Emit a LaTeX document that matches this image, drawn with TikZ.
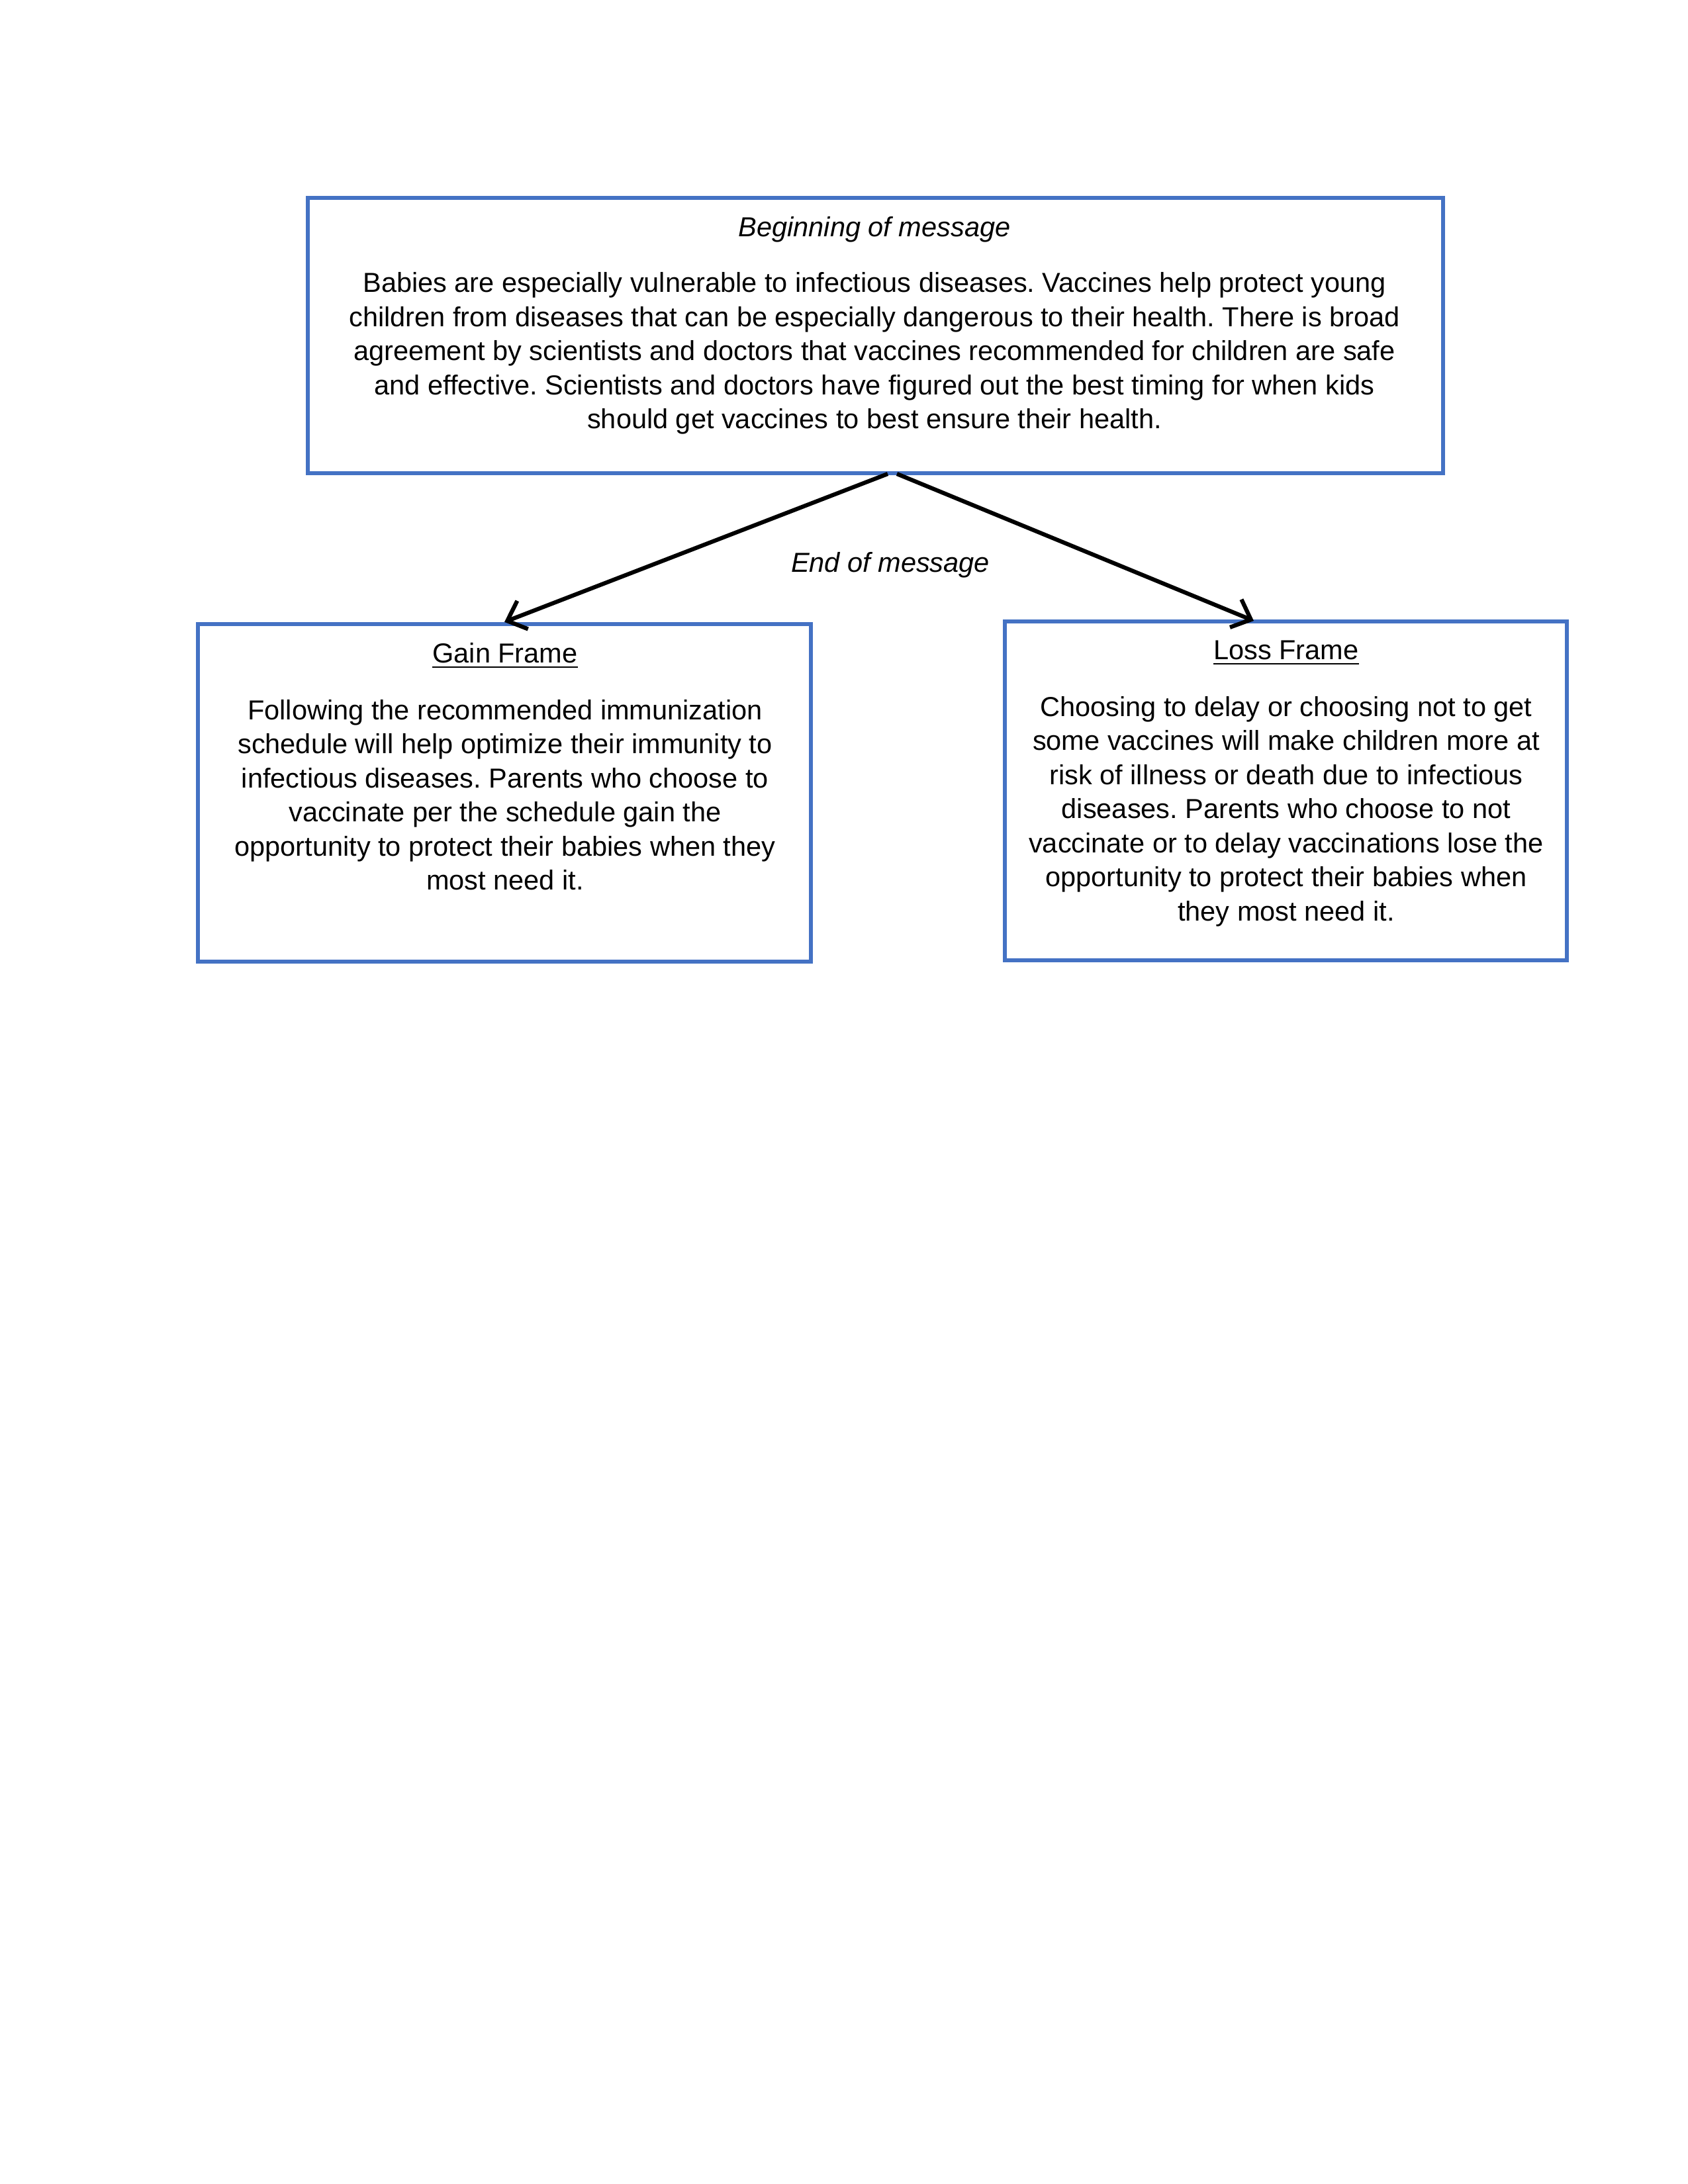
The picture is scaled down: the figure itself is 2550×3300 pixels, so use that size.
\documentclass[tikz,border=0pt]{standalone}
\usepackage{fontspec}
\setmainfont{Liberation Sans}
\usetikzlibrary{arrows.meta}
\definecolor{boxblue}{HTML}{4472C4}
\frenchspacing
\begin{document}
\begin{tikzpicture}[x=0.2409pt,y=-0.2409pt,
  every node/.style={font=\fontsize{10}{12.4}\selectfont, inner sep=0pt},
  framebox/.style={draw=boxblue, line width=1.5pt, rectangle, inner sep=0pt},
  txt/.style={align=center},
  arr/.style={draw=black, line width=1.5pt, -{Straight Barb[length=6pt,width=11pt]}}]
\path[use as bounding box] (0,0) rectangle (2550,3300);
\fill[white] (0,0) rectangle (2550,3300);
% boxes
\node[framebox, minimum width=413.1pt, minimum height=100.2pt] (top) at (1322.5,507) {};
\node[framebox, minimum width=223.1pt, minimum height=122.9pt] (gain) at (762,1198) {};
\node[framebox, minimum width=204.5pt, minimum height=123.3pt] (loss) at (1942.5,1195) {};
% texts
\node[txt] (toptitle) at (1321,347) {\itshape Beginning of message};
\node[txt] (topbody) at (1321,534) {Babies are especially vulnerable to infectious diseases. Vaccines help protect young\\
children from diseases that can be especially dangerous to their health. There is broad\\
agreement by scientists and doctors that vaccines recommended for children are safe\\
and effective. Scientists and doctors have figured out the best timing for when kids\\
should get vaccines to best ensure their health.};
\node[txt] (gaintitle) at (763,991) {\underline{Gain Frame}};
\node[txt] (gainbody) at (763,1201) {Following the recommended immunization\\
schedule will help optimize their immunity to\\
infectious diseases. Parents who choose to\\
vaccinate per the schedule gain the\\
opportunity to protect their babies when they\\
most need it.};
\node[txt] (losstitle) at (1943,987) {\underline{Loss Frame}};
\node[txt] (lossbody) at (1943,1226) {Choosing to delay or choosing not to get\\
some vaccines will make children more at\\
risk of illness or death due to infectious\\
diseases. Parents who choose to not\\
vaccinate or to delay vaccinations lose the\\
opportunity to protect their babies when\\
they most need it.};
\node[txt] (endmsg) at (1345,854) {\itshape End of message};
% connectors
\coordinate (s1) at (1341,716);
\coordinate (s2) at (1355,716);
\coordinate (lt) at (1894,938);
\draw[arr] (s1) -- (gain.north);
\draw[arr] (s2) -- (lt);
\end{tikzpicture}
\end{document}
